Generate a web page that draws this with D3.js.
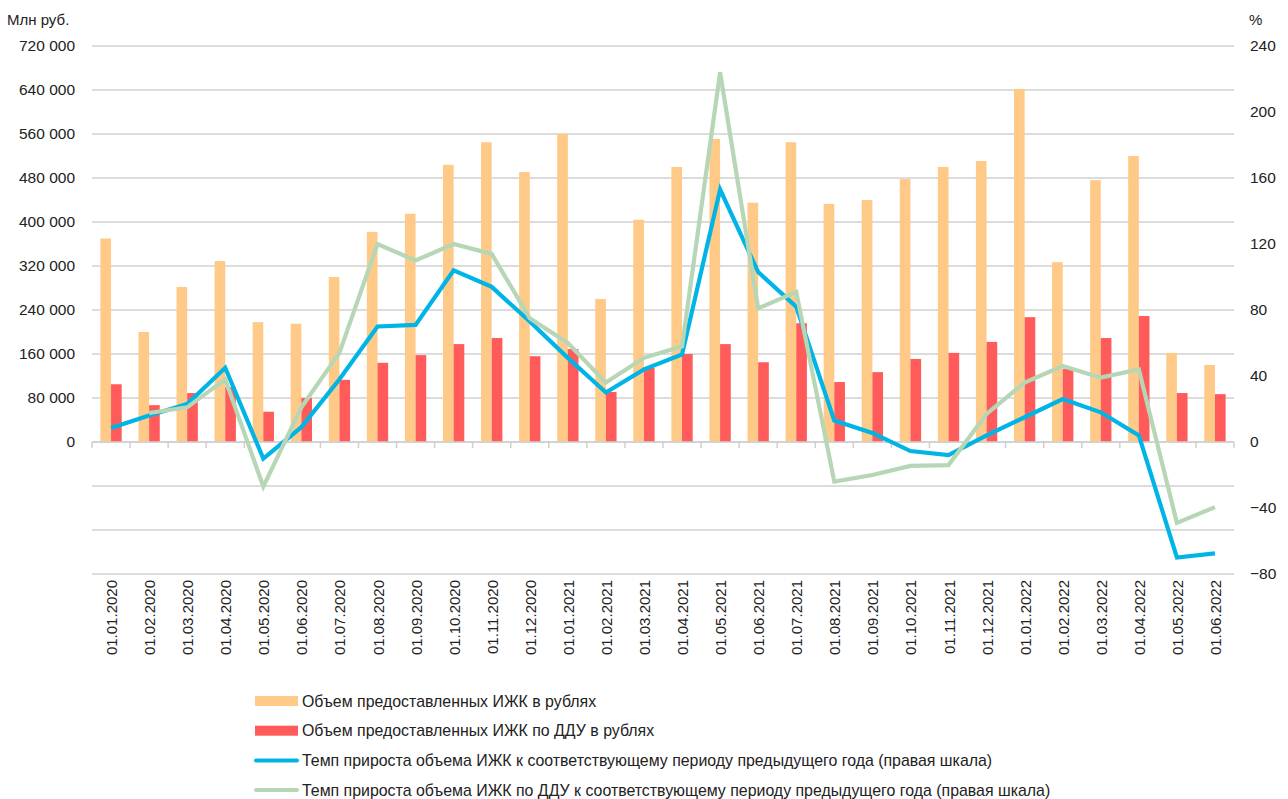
<!DOCTYPE html>
<html><head><meta charset="utf-8">
<script src="https://cdn.jsdelivr.net/npm/d3@7"></script>
<style>
body{margin:0;background:#fff;}
svg{display:block;}
</style></head>
<body><svg id="c" width="1288" height="799"></svg>
<script>
const categories = ["01.01.2020","01.02.2020","01.03.2020","01.04.2020","01.05.2020","01.06.2020","01.07.2020","01.08.2020","01.09.2020","01.10.2020","01.11.2020","01.12.2020","01.01.2021","01.02.2021","01.03.2021","01.04.2021","01.05.2021","01.06.2021","01.07.2021","01.08.2021","01.09.2021","01.10.2021","01.11.2021","01.12.2021","01.01.2022","01.02.2022","01.03.2022","01.04.2022","01.05.2022","01.06.2022"];
const volumeTotal = [370000,200000,282000,329000,218000,215000,300000,382000,415000,504000,545000,491000,560000,260000,404000,500000,551000,435000,545000,433000,440000,478000,500000,511000,642000,327000,476000,520000,162000,140000];
const volumeDDU = [105000,67000,89000,100000,55000,80000,113000,144000,158000,178000,189000,156000,169000,91000,135000,160000,178000,145000,216000,109000,127000,151000,162000,182000,227000,133000,189000,229000,89000,87000];
const growthTotal = [8.5,16,23,45,-10,9,38,70,71,104,94,73,51,30,44,53,153,103,82,13,5.5,-5.5,-8,4,15,26,18,4,-70,-67.5];
const growthDDU = [null,17.6,21,38,-27,21,54,120,110,120,114,75,60,36,51,58,224,81,91,-24,-20,-14.5,-14,17,36,46,39,44,-49,-39.5];
const leftTicks = [0,80000,160000,240000,320000,400000,480000,560000,640000,720000];
const rightTicks = [-80,-40,0,40,80,120,160,200,240];
const legendLabels = ["Объем предоставленных ИЖК в рублях","Объем предоставленных ИЖК по ДДУ в рублях","Темп прироста объема ИЖК к соответствующему периоду предыдущего года (правая шкала)","Темп прироста объема ИЖК по ДДУ к соответствующему периоду предыдущего года (правая шкала)"];
const leftTitle = "Млн руб.";
const rightTitle = "%";

const C = {orange:"#FFCA88", red:"#FF5B5B", blue:"#00B5E6", green:"#B6D6B6", grid:"#d0d0d0"};
const svg = d3.select("#c");
const L = 92, R = 1234, T = 46, B = 574;
const x = d3.scaleBand().domain(categories).range([L,R]).padding(0);
const yL = d3.scaleLinear().domain([-240000,720000]).range([B,T]);
const yR = d3.scaleLinear().domain([-80,240]).range([B,T]);
const font = "'Liberation Sans', Arial, sans-serif";

// gridlines
const gridVals = d3.range(-240000, 720001, 80000);
svg.append("g").selectAll("line").data(gridVals).join("line")
  .attr("x1",L).attr("x2",R).attr("y1",d=>yL(d)).attr("y2",d=>yL(d))
  .attr("stroke",C.grid).attr("stroke-width",1.5);

// left axis labels
const fmt = d => d3.format(",")(d).replace(/,/g," ");
const gl = svg.append("g").attr("transform",`translate(${L},0)`)
  .call(d3.axisLeft(yL).tickValues(leftTicks).tickFormat(fmt).tickSize(0).tickPadding(17));
gl.select(".domain").remove();
gl.selectAll("text").attr("font-family",font).attr("font-size",15.5).attr("fill","#222");

const gr = svg.append("g").attr("transform",`translate(${R},0)`)
  .call(d3.axisRight(yR).tickValues(rightTicks).tickSize(0).tickPadding(16));
gr.select(".domain").remove();
gr.selectAll("text").attr("font-family",font).attr("font-size",15.5).attr("fill","#222");

svg.append("text").attr("x",7).attr("y",25).text(leftTitle)
  .attr("font-family",font).attr("font-size",15).attr("fill","#222");
svg.append("text").attr("x",1249).attr("y",25).text(rightTitle)
  .attr("font-family",font).attr("font-size",15).attr("fill","#222");

// bars
const step = x.step();
const bw = step*0.28;
const bars = svg.append("g");
bars.selectAll("rect.o").data(categories).join("rect").attr("class","o")
  .attr("x",d=>x(d)+step/2-bw).attr("width",bw)
  .attr("y",(d,i)=>yL(volumeTotal[i])).attr("height",(d,i)=>yL(0)-yL(volumeTotal[i]))
  .attr("fill",C.orange);
bars.selectAll("rect.r").data(categories).join("rect").attr("class","r")
  .attr("x",d=>x(d)+step/2).attr("width",bw)
  .attr("y",(d,i)=>yL(volumeDDU[i])).attr("height",(d,i)=>yL(0)-yL(volumeDDU[i]))
  .attr("fill",C.red);

// x axis at zero
const gx = svg.append("g").attr("transform",`translate(0,${yL(0)})`);
gx.append("line").attr("x1",L).attr("x2",R).attr("stroke",C.grid).attr("stroke-width",1.5);
gx.selectAll("line.t").data(d3.range(categories.length+1)).join("line").attr("class","t")
  .attr("x1",i=>L+i*step).attr("x2",i=>L+i*step).attr("y1",0).attr("y2",6)
  .attr("stroke",C.grid).attr("stroke-width",1.5);

// x labels
svg.append("g").selectAll("text").data(categories).join("text")
  .attr("transform",d=>`translate(${x(d)+step/2+6},580) rotate(-90)`)
  .attr("text-anchor","end").attr("font-family",font).attr("font-size",15).attr("fill","#222")
  .text(d=>d);

// lines
const lineGen = d3.line().defined(d=>d.v!==null)
  .x(d=>x(d.c)+step/2).y(d=>yR(d.v));
svg.append("path").datum(categories.map((c,i)=>({c,v:growthTotal[i]})))
  .attr("d",lineGen).attr("fill","none").attr("stroke",C.blue).attr("stroke-width",4.2).attr("stroke-linejoin","miter");
svg.append("path").datum(categories.map((c,i)=>({c,v:growthDDU[i]})))
  .attr("d",lineGen).attr("fill","none").attr("stroke",C.green).attr("stroke-width",4.2).attr("stroke-linejoin","miter");

// legend
const lg = svg.append("g").attr("transform","translate(255,701)");
legendLabels.forEach((t,i)=>{
  const g = lg.append("g").attr("transform",`translate(0,${i*29.7})`);
  if(i<2){
    g.append("rect").attr("x",0).attr("y",-5).attr("width",43).attr("height",10).attr("fill",i===0?C.orange:C.red);
  } else {
    g.append("line").attr("x1",1).attr("x2",42).attr("stroke",i===2?C.blue:C.green).attr("stroke-width",4).attr("stroke-linecap","round");
  }
  g.append("text").attr("x",47).attr("y",5.5).text(t)
    .attr("font-family",font).attr("font-size",15.9).attr("fill","#222");
});
</script></body></html>
